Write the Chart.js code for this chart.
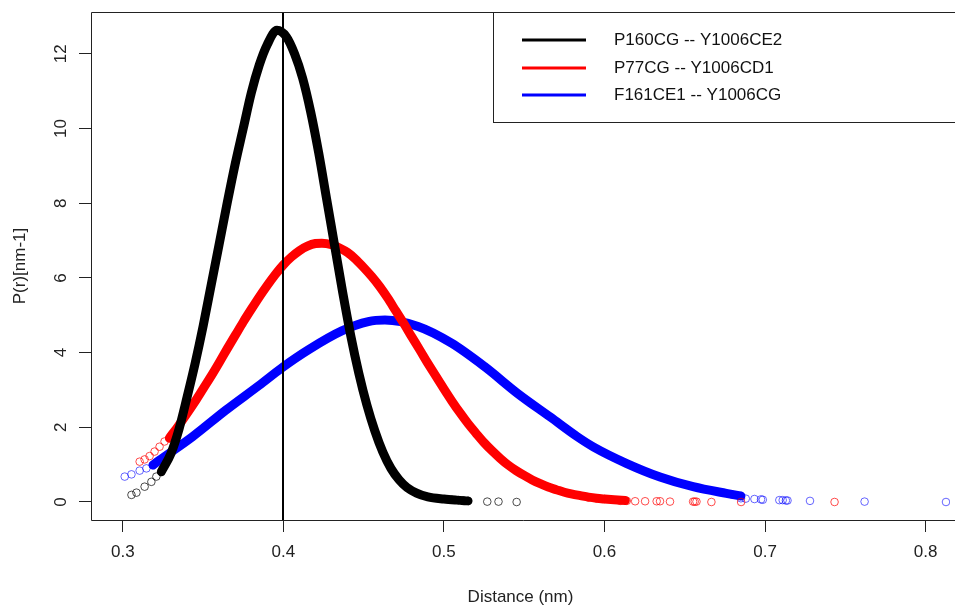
<!DOCTYPE html>
<html><head><meta charset="utf-8">
<script src="https://cdn.jsdelivr.net/npm/chart.js@4/dist/chart.umd.min.js"></script>
<style>html,body{margin:0;padding:0;background:#fff;overflow:hidden}canvas{display:block}</style>
</head><body>
<canvas id="c" width="955" height="609"></canvas>
<script>
const seriesNames = ['P160CG -- Y1006CE2', 'P77CG -- Y1006CD1', 'F161CE1 -- Y1006CG'];
const seriesColors = ['#000000', '#ff0000', '#0000ff'];
const pointColors = ['rgba(0,0,0,0.7)', 'rgba(255,0,0,0.7)', 'rgba(0,0,255,0.6)'];
const xTicks = [0.3, 0.4, 0.5, 0.6, 0.7, 0.8];
const yTicks = [0, 2, 4, 6, 8, 10, 12];
const refLineX = 0.4;
const xTitle = 'Distance (nm)';
const yTitle = 'P(r)[nm-1]';

// P160CG -- Y1006CE2 (dense part, drawn as thick stroke)
const blackLineX = [0.324, 0.330, 0.335, 0.340, 0.345, 0.350, 0.355, 0.360, 0.365, 0.370, 0.375, 0.380, 0.385, 0.390, 0.396, 0.402, 0.407, 0.412, 0.417, 0.422, 0.427, 0.432, 0.437, 0.442, 0.447, 0.452, 0.457, 0.462, 0.467, 0.472, 0.477, 0.483, 0.490, 0.500, 0.508, 0.515];
const blackLineY = [0.81, 1.3, 1.95, 2.8, 3.7, 4.7, 5.8, 6.9, 8.0, 9.05, 10.0, 10.95, 11.7, 12.25, 12.63, 12.45, 12.0, 11.35, 10.45, 9.35, 8.1, 6.85, 5.6, 4.45, 3.45, 2.6, 1.9, 1.33, 0.9, 0.6, 0.39, 0.24, 0.14, 0.08, 0.05, 0.03];
// sparse circles
const blackPtsX = [0.3054, 0.3085, 0.3136, 0.3178, 0.3209, 0.324, 0.505, 0.509, 0.512, 0.515, 0.527, 0.534, 0.5453];
const blackPtsY = [0.19, 0.25, 0.41, 0.54, 0.68, 0.81, 0.06, 0.05, 0.04, 0.03, 0.01, 0.01, 0.0];

// P77CG -- Y1006CD1
const redLineX = [0.329, 0.335, 0.340, 0.345, 0.350, 0.355, 0.360, 0.365, 0.370, 0.375, 0.380, 0.385, 0.390, 0.395, 0.400, 0.405, 0.410, 0.415, 0.420, 0.424, 0.430, 0.435, 0.440, 0.445, 0.450, 0.455, 0.460, 0.465, 0.470, 0.475, 0.480, 0.485, 0.490, 0.495, 0.500, 0.505, 0.510, 0.515, 0.520, 0.525, 0.530, 0.535, 0.540, 0.545, 0.550, 0.555, 0.560, 0.565, 0.570, 0.575, 0.580, 0.585, 0.590, 0.595, 0.600, 0.606, 0.613];
const redLineY = [1.71, 2.06, 2.37, 2.69, 3.03, 3.37, 3.73, 4.1, 4.46, 4.82, 5.16, 5.49, 5.8, 6.09, 6.35, 6.56, 6.73, 6.85, 6.92, 6.93, 6.89, 6.8, 6.68, 6.5, 6.28, 6.04, 5.77, 5.46, 5.12, 4.78, 4.42, 4.07, 3.71, 3.37, 3.03, 2.7, 2.39, 2.1, 1.84, 1.59, 1.37, 1.17, 0.99, 0.84, 0.71, 0.59, 0.49, 0.4, 0.33, 0.26, 0.21, 0.17, 0.13, 0.1, 0.08, 0.06, 0.04];
const redPtsX = [0.3105, 0.3136, 0.3167, 0.3198, 0.3229, 0.326, 0.3291, 0.590, 0.595, 0.600, 0.6098, 0.6139, 0.6191, 0.6253, 0.6325, 0.6346, 0.6408, 0.6552, 0.6562, 0.6573, 0.6666, 0.6851, 0.7433];
const redPtsY = [1.08, 1.14, 1.23, 1.35, 1.48, 1.62, 1.71, 0.12, 0.1, 0.08, 0.03, 0.03, 0.02, 0.02, 0.02, 0.02, 0.01, 0.01, 0.01, 0.01, 0.0, 0.0, 0.0];

// F161CE1 -- Y1006CG
const blueLineX = [0.3188, 0.3229, 0.3435, 0.3642, 0.3848, 0.3993, 0.4158, 0.4364, 0.4529, 0.4633, 0.4839, 0.5045, 0.5252, 0.5458, 0.5664, 0.583, 0.5933, 0.6139, 0.6346, 0.6552, 0.6759, 0.685];
const blueLineY = [0.99, 1.12, 1.75, 2.46, 3.12, 3.6, 4.08, 4.58, 4.83, 4.87, 4.7, 4.26, 3.63, 2.91, 2.27, 1.75, 1.47, 1.03, 0.67, 0.41, 0.23, 0.16];
const bluePtsX = [0.3012, 0.3054, 0.3105, 0.3147, 0.3188, 0.680, 0.685, 0.688, 0.6934, 0.6975, 0.6986, 0.7089, 0.711, 0.713, 0.714, 0.728, 0.762, 0.8127];
const bluePtsY = [0.68, 0.74, 0.84, 0.9, 0.99, 0.19, 0.1, 0.09, 0.08, 0.07, 0.06, 0.05, 0.05, 0.04, 0.04, 0.03, 0.01, 0.0];

const xMin = 0.2802, xMax = 0.8152, yMin = -0.482, yMax = 13.12;
const FONT = 'Liberation Sans, Arial, sans-serif';

const toXY = (xs, ys) => xs.map((x, i) => ({x: x, y: ys[i]}));
const lines = [[blackLineX, blackLineY], [redLineX, redLineY], [blueLineX, blueLineY]];
const pts = [[blackPtsX, blackPtsY], [redPtsX, redPtsY], [bluePtsX, bluePtsY]];

const datasets = [];
for (let i = 0; i < 3; i++) {
  datasets.push({
    label: seriesNames[i],
    data: toXY(lines[i][0], lines[i][1]),
    showLine: true,
    borderColor: seriesColors[i],
    backgroundColor: seriesColors[i],
    borderWidth: 9,
    pointRadius: 0,
    cubicInterpolationMode: 'monotone',
    borderCapStyle: 'round',
    borderJoinStyle: 'round',
    order: i
  });
  datasets.push({
    label: seriesNames[i] + ' pts',
    data: toXY(pts[i][0], pts[i][1]),
    showLine: false,
    pointRadius: 3.8,
    pointBorderWidth: 1,
    pointBackgroundColor: 'rgba(0,0,0,0)',
    pointBorderColor: pointColors[i],
    order: i
  });
}

const decor = {
  id: 'decor',
  afterDatasetsDraw(chart) {
    const ctx = chart.ctx, a = chart.chartArea;
    const xs = chart.scales.x, ys = chart.scales.y;
    ctx.save();
    // reference vertical line
    const px = Math.round(xs.getPixelForValue(refLineX));
    ctx.strokeStyle = '#000'; ctx.lineWidth = 2;
    ctx.beginPath(); ctx.moveTo(px, a.top); ctx.lineTo(px, a.bottom); ctx.stroke();
    // box (left, top, bottom)
    ctx.strokeStyle = '#222'; ctx.lineWidth = 1;
    ctx.beginPath();
    ctx.moveTo(a.right + 5, a.top + 0.5); ctx.lineTo(a.left + 0.5, a.top + 0.5);
    ctx.lineTo(a.left + 0.5, a.bottom + 0.5); ctx.lineTo(a.right + 5, a.bottom + 0.5);
    ctx.stroke();
    // y tick labels (rotated)
    ctx.fillStyle = '#222';
    ctx.font = '17px ' + FONT;
    ctx.textAlign = 'center'; ctx.textBaseline = 'middle';
    yTicks.forEach(v => {
      const py = ys.getPixelForValue(v);
      ctx.save(); ctx.translate(61, py); ctx.rotate(-Math.PI / 2);
      ctx.fillText(String(v), 0, 0); ctx.restore();
    });
    // legend
    const lx = 493, ly = a.top, lw = 480, lh = 110;
    ctx.fillStyle = '#fff';
    ctx.fillRect(lx, ly, lw, lh);
    ctx.strokeStyle = '#222'; ctx.lineWidth = 1;
    ctx.strokeRect(lx + 0.5, ly + 0.5, lw, lh);
    const rowY = [40, 68, 95];
    ctx.textAlign = 'left'; ctx.textBaseline = 'middle';
    for (let i = 0; i < 3; i++) {
      ctx.strokeStyle = seriesColors[i]; ctx.lineWidth = 3;
      ctx.beginPath(); ctx.moveTo(522, rowY[i]); ctx.lineTo(586, rowY[i]); ctx.stroke();
      ctx.fillStyle = '#111';
      ctx.fillText(seriesNames[i], 614, rowY[i]);
    }
    ctx.restore();
  }
};

new Chart(document.getElementById('c'), {
  type: 'scatter',
  data: {datasets: datasets},
  plugins: [decor],
  options: {
    responsive: false,
    animation: false,
    devicePixelRatio: 1,
    layout: {padding: {top: 12, left: 0, right: 0, bottom: 0}},
    plugins: {legend: {display: false}, tooltip: {enabled: false}},
    scales: {
      x: {
        type: 'linear', position: 'bottom', min: xMin, max: xMax,
        afterFit: s => { s.height = 89; },
        afterBuildTicks: s => { s.ticks = xTicks.map(v => ({value: v})); },
        grid: {drawOnChartArea: false, drawTicks: true, tickLength: 12, color: '#222', lineWidth: 1},
        border: {display: false},
        ticks: {font: {family: FONT, size: 17}, color: '#222', padding: 10, maxRotation: 0, autoSkip: false,
          callback: v => v.toFixed(1)},
        title: {display: true, text: xTitle, font: {family: FONT, size: 17}, color: '#222', padding: {top: 0, bottom: 1}}
      },
      y: {
        type: 'linear', position: 'left', min: yMin, max: yMax,
        afterFit: s => { s.width = 91; },
        afterBuildTicks: s => { s.ticks = yTicks.map(v => ({value: v})); },
        grid: {drawOnChartArea: false, drawTicks: true, tickLength: 12, color: '#222', lineWidth: 1},
        border: {display: false},
        ticks: {display: false},
        title: {display: true, text: yTitle, font: {family: FONT, size: 17}, color: '#222', padding: {top: 10, bottom: 0}}
      }
    }
  }
});
</script>
</body></html>
